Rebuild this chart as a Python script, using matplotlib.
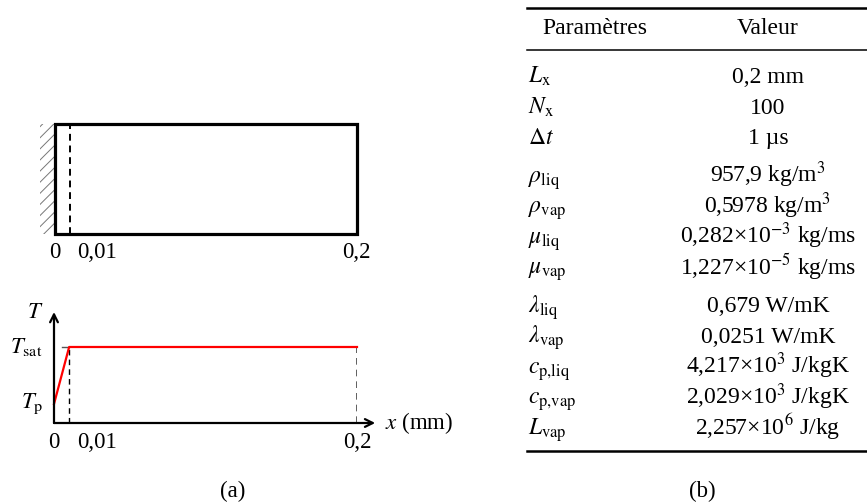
import matplotlib
matplotlib.use("Agg")
import matplotlib.pyplot as plt
from matplotlib.patches import Rectangle

plt.rcParams["font.family"] = ["Liberation Serif", "DejaVu Serif"]
plt.rcParams["mathtext.fontset"] = "stix"
plt.rcParams["hatch.linewidth"] = 0.7
plt.rcParams["hatch.color"] = "#777777"

# domain (mm)
x_wall = 0.0
x_film = 0.01
L_dom = 0.2
x_ticks = [0.0, 0.01, 0.2]
x_tick_labels = ["0", "0,01", "0,2"]

# schematic temperature profile
T_p = 1.0
T_sat = 4.0
profile_x = [x_wall, x_film, L_dom]
profile_T = [T_p, T_sat, T_sat]

# table of parameters
param_names = [r"$L_\mathrm{x}$", r"$N_\mathrm{x}$", r"$\Delta t$",
               r"$\rho_\mathrm{liq}$", r"$\rho_\mathrm{vap}$",
               r"$\mu_\mathrm{liq}$", r"$\mu_\mathrm{vap}$",
               r"$\lambda_\mathrm{liq}$", r"$\lambda_\mathrm{vap}$",
               r"$c_\mathrm{p{,}liq}$", r"$c_\mathrm{p{,}vap}$", r"$L_\mathrm{vap}$"]
param_values = ["0,2 mm", "100", "1 µs",
                r"957,9 kg/m$^3$", r"0,5978 kg/m$^3$",
                r"0,282×10$^{-3}$ kg/ms", r"1,227×10$^{-5}$ kg/ms",
                "0,679 W/mK", "0,0251 W/mK",
                r"4,217×10$^3$ J/kgK", r"2,029×10$^3$ J/kgK",
                r"2,257×10$^6$ J/kg"]
param_groups = [3, 4, 5]

W, H = 867, 503
fig = plt.figure(figsize=(W / 100, H / 100), dpi=100)


def px_axes(x0, x1, y_top, y_bot):
    ax = fig.add_axes([x0 / W, 1 - y_bot / H, (x1 - x0) / W, (y_bot - y_top) / H])
    ax.set_axis_off()
    return ax


fs = 16.5

# ---- (a) top: domain ----
ax_dom = px_axes(54.5, 356.5, 123.5, 233.5)
ax_dom.set_xlim(x_wall, L_dom)
ax_dom.set_ylim(0, 1)
ax_dom.add_patch(Rectangle((x_wall - 0.0093, 0), 0.0093, 1, facecolor="none",
                           edgecolor="#777777", lw=0, hatch="///", clip_on=False))
ax_dom.add_patch(Rectangle((x_wall, 0), L_dom - x_wall, 1, fill=False,
                           edgecolor="black", lw=2.3, clip_on=False))
ax_dom.plot([x_film, x_film], [0, 1], color="black", lw=1.4, dashes=(3.5, 2.5))
for xv, lab in zip(x_ticks, x_tick_labels):
    dx, ha = (8, "left") if xv == x_film else (0, "center")
    ax_dom.annotate(lab, xy=(xv, 0), xytext=(dx, -18.5), textcoords="offset pixels",
                    ha=ha, va="center", fontsize=fs, annotation_clip=False)

# ---- (a) bottom: temperature profile ----
ax_T = px_axes(54, 357, 312, 423)
ax_T.set_xlim(x_wall, L_dom)
ax_T.set_ylim(0, 111 / 19)
arrow = dict(arrowstyle="->", lw=1.6, color="black", shrinkA=0, shrinkB=0,
             mutation_scale=14)
ax_T.annotate("", xy=(1.06, 0), xytext=(0, 0), xycoords="axes fraction",
              arrowprops=arrow)
ax_T.annotate("", xy=(0, 1), xytext=(0, 0), xycoords="axes fraction",
              arrowprops=arrow)
ax_T.plot([x_film, x_film], [0, T_sat], color="black", lw=1.0, dashes=(4, 3))
ax_T.plot([L_dom, L_dom], [0, T_sat], color="#444444", lw=1.2, dashes=(4, 3))
ax_T.plot([0.0053, x_film], [T_sat, T_sat], color="#555555", lw=1.0)
ax_T.plot(profile_x, profile_T, color="red", lw=1.6, clip_on=False)

ax_T.annotate(r"$T$", xy=(0, 1), xycoords="axes fraction", xytext=(-11, 0),
              textcoords="offset pixels", ha="right", va="center", fontsize=fs)
ax_T.annotate(r"$T_\mathrm{sat}$", xy=(0, T_sat), xytext=(-11, 0),
              textcoords="offset pixels", ha="right", va="center", fontsize=fs)
ax_T.annotate(r"$T_\mathrm{p}$", xy=(0, T_p), xytext=(-11, 0),
              textcoords="offset pixels", ha="right", va="center", fontsize=fs)
ax_T.annotate(r"$x$ (mm)", xy=(1.06, 0), xycoords="axes fraction", xytext=(10, 0),
              textcoords="offset pixels", ha="left", va="center", fontsize=fs)
for xv, lab in zip(x_ticks, x_tick_labels):
    dx, ha = (8, "left") if xv == x_film else (0, "center")
    ax_T.annotate(lab, xy=(xv, 0), xytext=(dx, -19), textcoords="offset pixels",
                  ha=ha, va="center", fontsize=fs, annotation_clip=False)

fig.text(233 / W, 1 - 491 / H, "(a)", ha="center", va="center", fontsize=fs)

# ---- (b) table ----
ax_tab = px_axes(0, W, 0, H)
ax_tab.set_xlim(0, W)
ax_tab.set_ylim(H, 0)
tfs = 17
x_left, x_right = 527, W
ax_tab.plot([x_left, x_right], [8, 8], color="black", lw=1.8)
ax_tab.plot([x_left, x_right], [50, 50], color="black", lw=1.1)
ax_tab.plot([x_left, x_right], [451, 451], color="black", lw=1.8)
ax_tab.text(595, 34, "Paramètres", ha="center", va="baseline", fontsize=tfs)
ax_tab.text(768, 34, "Valeur", ha="center", va="baseline", fontsize=tfs)

pitch, gap = 30.5, 8
y = 83
i = 0
for g, n in enumerate(param_groups):
    if g > 0:
        y += gap
    for _ in range(n):
        ax_tab.text(528, y, param_names[i], ha="left", va="baseline", fontsize=tfs)
        ax_tab.text(768, y, param_values[i], ha="center", va="baseline", fontsize=tfs)
        y += pitch
        i += 1

fig.text(702 / W, 1 - 491 / H, "(b)", ha="center", va="center", fontsize=fs)

fig.savefig("out.png", dpi=100)
